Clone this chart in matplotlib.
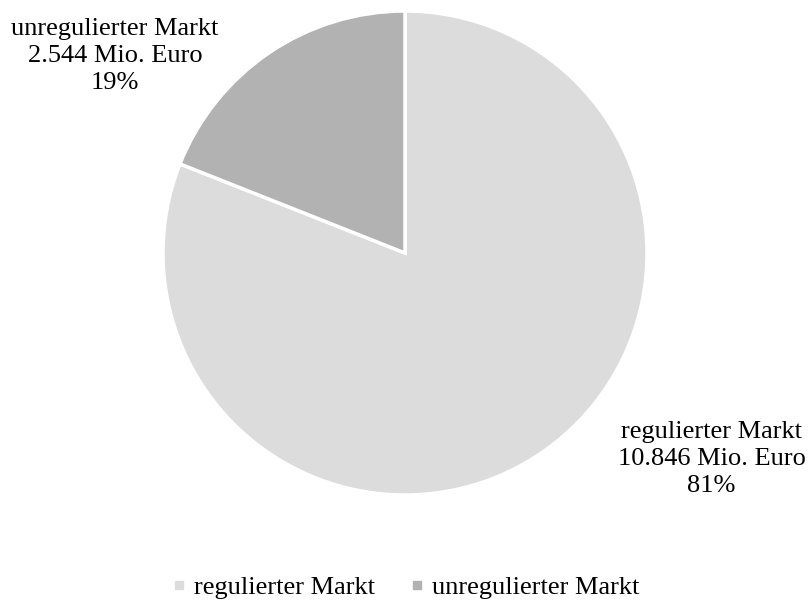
import matplotlib
matplotlib.use("Agg")
import matplotlib.pyplot as plt
from matplotlib.lines import Line2D

labels = ["regulierter Markt", "unregulierter Markt"]
values = [10.846, 2.544]
value_text = ["10.846 Mio. Euro", "2.544 Mio. Euro"]
percents = ["81%", "19%"]
colors = ["#dcdcdc", "#b2b2b2"]

plt.rcParams["font.family"] = ["Liberation Serif", "DejaVu Serif"]
FS = 19

fig = plt.figure(figsize=(8.08, 6.04), dpi=100)
ax = fig.add_axes([163 / 808, 109 / 604, 484 / 808, 484 / 604])

ax.pie(values, colors=colors, startangle=90, counterclock=False,
       wedgeprops=dict(edgecolor="white", linewidth=2.5), radius=1)
ax.set_xlim(-1, 1)
ax.set_ylim(-1, 1)
ax.set_aspect("equal")
ax.axis("off")

# data label positions (outside the pie)
label_pos = [(1.267, -0.851), (-1.198, 0.814)]
for i in range(len(labels)):
    ax.text(label_pos[i][0], label_pos[i][1],
            f"{labels[i]}\n{value_text[i]}\n{percents[i]}",
            ha="center", va="center", fontsize=FS, linespacing=1.3,
            clip_on=False)

handles = [Line2D([], [], marker="s", linestyle="none", markersize=5.5,
                  markerfacecolor=c, markeredgecolor=c) for c in colors]
fig.legend(handles, labels, loc="center", bbox_to_anchor=(0.5, 1 - 587 / 604),
           ncol=2, frameon=False, fontsize=FS, handletextpad=0.15,
           columnspacing=1.2, handlelength=0.8)

fig.savefig("out.png", dpi=100)
